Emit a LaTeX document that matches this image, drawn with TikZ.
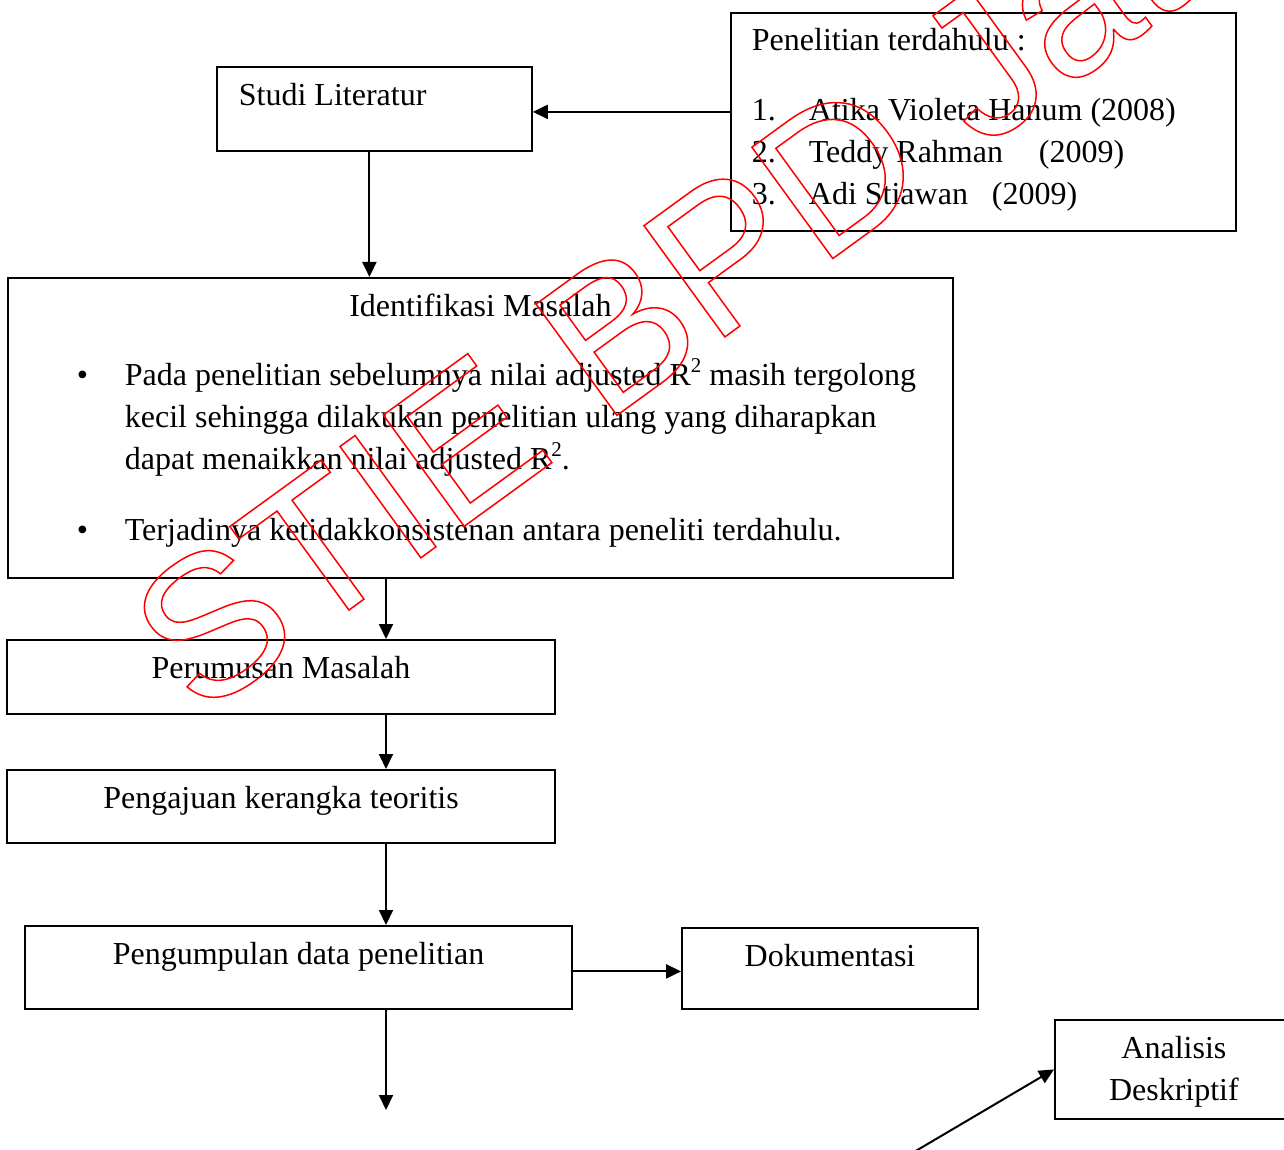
\documentclass[tikz,border=0pt]{standalone}
\usepackage{fontspec}
\setmainfont{Liberation Serif}
\newfontfamily\wmfont{Liberation Sans}
\usetikzlibrary{arrows.meta}
\newcommand{\sqr}{\raisebox{13pt}{\fontsize{21}{21}\selectfont 2}}
\begin{document}
\begin{tikzpicture}[x=1pt, y=-1pt,
          font=\fontsize{32}{42}\selectfont,
          box/.style={draw, line width=1.8pt, inner xsep=0pt, inner ysep=0pt, text height=39pt, align=center},
          arr/.style={line width=2pt, -{Triangle[length=15pt, width=14pt]}},
          wm/.style={red, inner sep=0pt, font=\wmfont\fontsize{200}{200}\selectfont}]
          \useasboundingbox (0,0) rectangle (1284,1150);
          % boxes
          \node[box, anchor=north west, align=flush left, text width=271pt, inner xsep=22pt, text depth=45pt] (studi) at (216,66) {Studi Literatur};
          \node[box, anchor=north west, align=flush left, text width=463pt, inner xsep=21pt, text height=38pt, text depth=180pt] (pen) at (730,12)
              {Penelitian terdahulu :\\[28pt]
               \makebox[57pt][l]{1.}Atika Violeta Hanum (2008)\\
               \makebox[57pt][l]{2.}\makebox[230pt][l]{Teddy Rahman}(2009)\\
               \makebox[57pt][l]{3.}\makebox[183pt][l]{Adi Stiawan}(2009)};
          \node[box, anchor=north west, align=flush left, text width=945pt, text depth=261pt] (ident) at (7,277)
              {\makebox[945pt]{Identifikasi Masalah}\\[27pt]
               \hspace*{69pt}\makebox[48pt][l]{\textbullet}Pada penelitian sebelumnya nilai adjusted R\sqr{} masih tergolong\\
               \hspace*{117pt}kecil sehingga dilakukan penelitian ulang yang diharapkan\\
               \hspace*{117pt}dapat menaikkan nilai adjusted R\sqr.\\[29pt]
               \hspace*{69pt}\makebox[48pt][l]{\textbullet}Terjadinya ketidakkonsistenan antara peneliti terdahulu.};
          \node[box, anchor=north, minimum width=548pt, text depth=35pt] (perum) at (281,639) {Perumusan Masalah};
          \node[box, anchor=north, minimum width=548pt, text depth=34pt] (aju) at (281,769) {Pengajuan kerangka teoritis};
          \node[box, anchor=north, minimum width=547pt, text depth=44pt] (kump) at (298.5,925) {Pengumpulan data penelitian};
          \node[box, anchor=north, minimum width=296pt, text depth=42pt] (dok) at (830,927) {Dokumentasi};
          \node[box, anchor=north west, align=flush center, text width=238pt, text depth=60pt] (anal) at (1054,1019) {Analisis\\Deskriptif};
          % connectors
          \coordinate (spine) at (386,0);
          \coordinate (studiIn) at ([yshift=-3pt]studi.east);
          \coordinate (kumpOut) at ([yshift=-4pt]kump.east);
          \coordinate (kumpEnd) at (386,1110);
          \coordinate (analStart) at (914,1152);
          \draw[arr] (pen.west |- studiIn) -- (studiIn);
          \draw[arr] ([xshift=-5pt]studi.south) -- ([xshift=-5pt]studi.south |- ident.north);
          \draw[arr] (ident.south -| spine) -- (perum.north -| spine);
          \draw[arr] (perum.south -| spine) -- (aju.north -| spine);
          \draw[arr] (aju.south -| spine) -- (kump.north -| spine);
          \draw[arr] (kump.south -| spine) -- (kumpEnd);
          \draw[arr] (kumpOut) -- (dok.west |- kumpOut);
          \draw[arr] (analStart) -- (anal.west);
          % watermark
          \begin{scope}
              \clip (0,0) rectangle (1284,1150);
              \node[wm, rotate=36, anchor=base west] (wmark) at (199,719)
                  {\special{pdf:literal direct 1 Tr 1.5 w}STIE BPD Jateng\special{pdf:literal direct 0 Tr}};
          \end{scope}
\end{tikzpicture}
\end{document}
